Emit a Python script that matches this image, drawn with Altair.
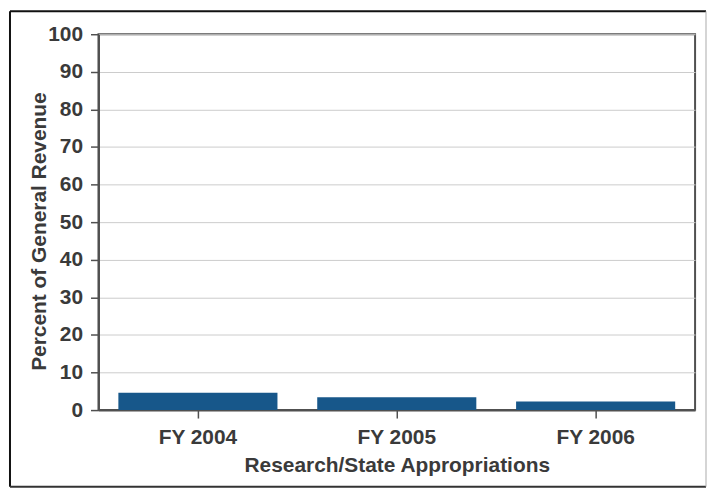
import altair as alt
import pandas as pd

years = ["FY 2004", "FY 2005", "FY 2006"]
percent = [4.6, 3.4, 2.3]
y_ticks = list(range(0, 101, 10))

df = pd.DataFrame({"year": years, "percent": percent})

TEXT = "#3a3a3a"
FONT = "Liberation Sans"
AXIS = "#505050"

bars = alt.Chart(df).mark_bar(color="#17578a").encode(
    x=alt.X(
        "year:N",
        sort=years,
        scale=alt.Scale(paddingInner=0.2, paddingOuter=0.1),
        axis=alt.Axis(
            title="Research/State Appropriations",
            labelAngle=0,
            tickSize=8,
            labelPadding=9,
            titleBaseline="alphabetic",
            titleY=62,
        ),
    ),
    y=alt.Y(
        "percent:Q",
        scale=alt.Scale(domain=[0, 100], nice=False),
        axis=alt.Axis(
            values=y_ticks,
            title="Percent of General Revenue",
            grid=True,
            tickSize=8,
            labelPadding=8,
            titleBaseline="alphabetic",
            titleX=-53,
            titleY=198,
        ),
    ),
)

one = pd.DataFrame({"k": [0]})
border_top = alt.Chart(one).mark_rule(color="#111111", strokeWidth=2).encode(
    x=alt.value(-89), x2=alt.value(611), y=alt.value(-23)
)
border_left = alt.Chart(one).mark_rule(color="#111111", strokeWidth=2).encode(
    x=alt.value(-89), y=alt.value(-23), y2=alt.value(455)
)
border_bottom = alt.Chart(one).mark_rule(color="#333333", strokeWidth=2).encode(
    x=alt.value(-89), x2=alt.value(611), y=alt.value(455)
)
border_right = alt.Chart(one).mark_rule(color="#aaaaaa", strokeWidth=1).encode(
    x=alt.value(611), y=alt.value(-23), y2=alt.value(455)
)

chart = (
    alt.layer(bars, border_top, border_left, border_bottom, border_right)
    .properties(
        width=600,
        height=378,
        autosize=alt.AutoSizeParams(type="none"),
        padding={"left": 91, "top": 25, "right": 13, "bottom": 79},
        background="white",
    )
    .configure_view(stroke=AXIS, strokeWidth=2)
    .configure_axis(
        labelFont=FONT,
        titleFont=FONT,
        labelFontSize=21,
        titleFontSize=21,
        labelFontWeight="bold",
        titleFontWeight="bold",
        labelColor=TEXT,
        titleColor=TEXT,
        domainColor=AXIS,
        domainWidth=2,
        tickColor=AXIS,
        tickWidth=1.5,
        gridColor="#cccccc",
        gridWidth=1,
    )
)

chart.save("out.html", embed_options={"renderer": "svg", "actions": False})
